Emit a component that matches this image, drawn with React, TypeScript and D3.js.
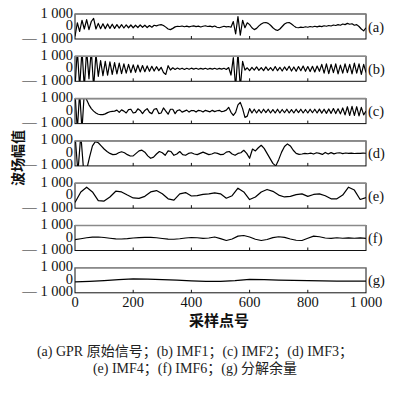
import React from "react";
import * as d3 from "d3";

// ---- data (amplitude values, sampled at a fixed step of sample index) ----
const panelLabels = ["(a)", "(b)", "(c)", "(d)", "(e)", "(f)", "(g)"];
const yTickLabels = ["1 000", "0", "\u2014 1 000"];
const yTickValues = [1000, 0, -1000];
const xTickValues = [0, 200, 400, 600, 800, 1000];
const xTickLabels = ["0", "200", "400", "600", "800", "1 000"];
const steps = [8, 8, 8, 10, 20, 20, 50];

const seriesA = [
  -800, 300, -400, 500, -200, 550, -250, 400, 650, -200,
  250, -180, 220, -170, 200, -150, 180, -150, 150, -130,
  150, -120, 130, -100, 120, -100, 100, -80, 120, -60,
  100, -80, 80, -60, 100, 50, 120, 150, 80, -50,
  -200, -250, -150, -30, 20, 0, 40, -20, 30, -30,
  20, 50, -10, 30, -40, 20, 60, 0, 30, -30,
  40, -60, -100, -40, 20, -30, 0, -60, 400, -600,
  800, -700, 500, -100, 300, 150, -100, -250, -150, 50,
  200, 300, 320, 250, 100, -100, -250, -320, -200, 0,
  200, 300, 320, 200, 50, -80, -100, -50, -80, -20,
  -60, 0, -40, 20, -30, 30, -10, 60, 20, 80,
  40, 120, 80, 150, 100, 200, 150, 250, 180, 220,
  100, 150, 0, -200, -350, -100,
];

const seriesB = [
  -1500, 1500, -1500, 1500, -1500, 1500, -800, 1500, -1500, 1200,
  -600, 650, -550, 600, -500, 550, -450, 500, -400, 450,
  -380, 400, -350, 350, -300, 320, -280, 300, -250, 260,
  -230, 230, -200, 200, -180, 170, -150, 120, -300, -450,
  250, -100, 80, -50, 60, -40, 50, -50, 40, -40,
  50, -30, 40, -40, 30, -30, 40, -40, 30, -30,
  40, -40, 30, -30, 40, -50, 100, -500, 900, -1500,
  1300, -1500, 600, -100, 80, -150, 120, -100, 150, -120,
  100, -150, 150, -120, 100, -150, 180, -150, 120, -180,
  150, -120, 200, -180, 150, -200, 180, -150, 220, -200,
  180, -220, 200, -250, 220, -200, 350, -350, 400, -380,
  350, -300, 400, -400, 300, -350, 400, -300, 350, -400,
  450, -350, 400, -450, 350, -300,
];

const seriesC = [
  1500, -1500, 1500, -1500, 1500, 900, 500, 200, 0, -150,
  -250, -280, -280, -220, -120, -50, -20, 0, 80, -100,
  100, 0, -150, 120, 150, -150, -100, 180, 50, -200,
  50, 200, -100, -200, 150, 200, -200, -150, 250, 0,
  -250, 150, 150, -200, 50, 100, -80, 0, 80, -80,
  50, 40, -80, 60, 30, -70, 60, 0, -60, 60,
  -40, 30, 60, -50, 0, 80, 300, -100, -350, -100,
  500, 700, 200, -500, -400, 200, -150, 150, -150, 120,
  -150, 150, -120, 150, -150, 120, -150, 150, -150, 130,
  -130, 150, -150, 120, -150, 150, -120, 150, -150, 130,
  -150, 150, -130, 150, -150, 160, -160, 150, -180, 170,
  -180, 200, -200, 180, -220, 250, -300, 350, -350, 380,
  -350, 350, -380, 300, -300, 0,
];

const seriesD = [
  1500, -1500, 1500, -1500, -1300, -300, 600, 940, 850, 600,
  350, 150, 0, -100, -80, 50, 130, 50, -100, -210,
  -200, 0, 200, 260, 100, -200, -390, -300, -50, 150,
  50, -150, 200, 150, -150, -50, 150, -100, -150, 0,
  50, -50, -100, 0, 100, 0, -100, -50, 50, 0,
  -100, -80, 100, 150, -50, -150, 0, 50, 250, 0,
  -390, 350, 200, 450, 650, 400, 0, -400, -800, -1000,
  -500, 100, 550, 760, 600, 250, 0, -80, -50, 0,
  -30, 20, -50, 50, 0, -80, 80, -50, 60, -40,
  30, 50, -20, 30, 0, 20, -10, 10, 0, 20,
  10,
];

const seriesE = [
  -545, 300, 680, 300, -400, -430, -100, 360, 300, 50,
  -180, -210, -50, 300, 410, 150, -250, -350, 150, 250,
  -25, 0, 100, 150, 230, 150, -200, 0, 600, 300,
  -310, -100, 300, 500, 350, 50, -100, -50, 80, 150,
  -50, 100, 150, 0, -250, -250, 50, 680, 450, -300,
  -150,
];

const seriesF = [
  -130, -60, 20, 70, 80, 40, -20, -70, -80, -50,
  0, 30, 50, 50, 20, -40, -90, -100, -60, 0,
  40, 20, -30, 0, 80, -50, -200, -80, 150, 200,
  80, -100, -200, -120, 30, 100, 50, -80, -180, -200,
  -20, 150, 100, 0, -30, 20, -20, 10, -20, 10,
  -30,
];

const seriesG = [
  -130, -80, -20, 60, 120, 100, 60, 20, -40, -80,
  -80, -20, 80, 60, 20, 0, -20, -40, -60, -70,
  -70,
];

const allSeries = [seriesA, seriesB, seriesC, seriesD, seriesE, seriesF, seriesG];

const captionLine1 = "(a) GPR 原始信号；(b) IMF1；(c) IMF2；(d) IMF3；";
const captionLine2 = "(e) IMF4；(f) IMF6；(g)  分解余量";
const xTitle = "采样点号";
const yTitle = "波场幅值";

// ---- layout ----
const LEFT = 75;
const RIGHT = 366;
const FIRST_TOP = 14;
const PANEL_GAP = 42.3;
const PANEL_H = 25;
const SERIF = "Liberation Serif, Times New Roman, serif";
const CJK = "Noto Sans CJK SC, sans-serif";
const MIXED = "Liberation Serif, Noto Sans CJK SC, serif";

export default function App() {
  const x = d3.scaleLinear().domain([0, 1000]).range([LEFT, RIGHT]);

  return (
    <svg
      width={401}
      height={394}
      viewBox="0 0 401 394"
      style={{ position: "absolute", left: 0, top: 0, background: "#fff" }}
    >
      <rect x={0} y={0} width={401} height={394} fill="#fff" />
      <defs>
        {allSeries.map((_, i) => {
          const top = FIRST_TOP + i * PANEL_GAP;
          return (
            <clipPath id={`clip${i}`} key={i}>
              <rect x={LEFT} y={top} width={RIGHT - LEFT} height={PANEL_H} />
            </clipPath>
          );
        })}
      </defs>

      {allSeries.map((vals, i) => {
        const top = FIRST_TOP + i * PANEL_GAP;
        const y = d3.scaleLinear().domain([-1000, 1000]).range([top + PANEL_H, top]);
        const step = steps[i];
        const line = d3
          .line<number>()
          .x((_, j) => x(j * step))
          .y((v) => y(v));
        return (
          <g key={i}>
            <path
              d={line(vals) || ""}
              fill="none"
              stroke="#000"
              strokeWidth={1.2}
              strokeLinejoin="round"
              clipPath={`url(#clip${i})`}
            />
            <rect
              x={LEFT}
              y={top}
              width={RIGHT - LEFT}
              height={PANEL_H}
              fill="none"
              stroke="#111"
              strokeWidth={1}
            />
            <line x1={LEFT} x2={RIGHT} y1={top} y2={top} stroke="#8a8a8a" strokeWidth={1.6} />
            {xTickValues.slice(1, -1).map((t) => (
              <line
                key={t}
                x1={x(t)}
                x2={x(t)}
                y1={top + PANEL_H}
                y2={top + PANEL_H - 3}
                stroke="#111"
                strokeWidth={1}
              />
            ))}
            {yTickValues.map((t, k) => (
              <text
                key={t}
                x={73}
                y={y(t) - 1.5}
                dy="0.35em"
                textAnchor="end"
                style={{ fontFamily: SERIF, fontSize: 14.5 }}
                fill="#111"
              >
                {yTickLabels[k]}
              </text>
            ))}
            <text
              x={368}
              y={top + PANEL_H / 2}
              dy="0.35em"
              style={{ fontFamily: SERIF, fontSize: 14.5 }}
              fill="#111"
            >
              {panelLabels[i]}
            </text>
          </g>
        );
      })}

      {xTickValues.map((t, k) => (
        <text
          key={t}
          x={x(t)}
          y={302}
          dy="0.35em"
          textAnchor="middle"
          style={{ fontFamily: SERIF, fontSize: 14.5 }}
          fill="#111"
        >
          {xTickLabels[k]}
        </text>
      ))}

      <text
        x={219}
        y={321}
        dy="0.35em"
        textAnchor="middle"
        style={{ fontFamily: CJK, fontSize: 15, fontWeight: 700 }}
        fill="#111"
      >
        {xTitle}
      </text>

      <text
        transform="translate(18,158) rotate(-90)"
        dy="0.35em"
        textAnchor="middle"
        style={{ fontFamily: CJK, fontSize: 14, fontWeight: 700 }}
        fill="#111"
      >
        {yTitle}
      </text>

      <text x={195} y={351} dy="0.35em" textAnchor="middle" style={{ fontFamily: MIXED, fontSize: 14 }} fill="#222">
        {captionLine1}
      </text>
      <text x={195} y={368} dy="0.35em" textAnchor="middle" style={{ fontFamily: MIXED, fontSize: 14 }} fill="#222">
        {captionLine2}
      </text>
    </svg>
  );
}
